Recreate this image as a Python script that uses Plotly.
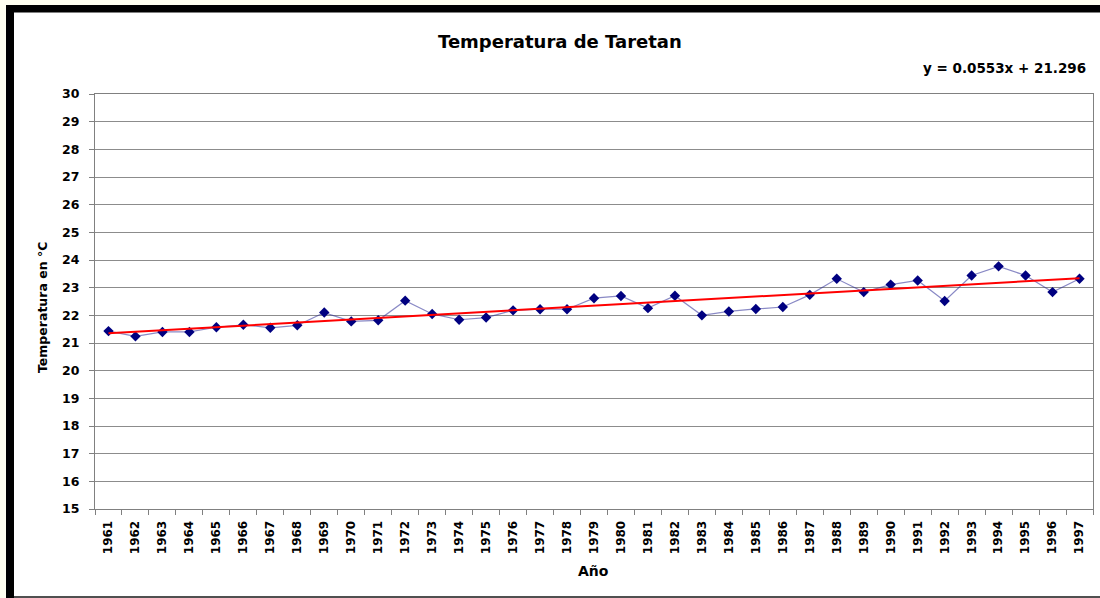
import plotly.graph_objects as go

years = [str(y) for y in range(1961, 1998)]
temps = [21.43, 21.24, 21.40, 21.40, 21.57, 21.66, 21.55, 21.64, 22.10, 21.78,
         21.82, 22.53, 22.05, 21.84, 21.92, 22.18, 22.22, 22.22, 22.62, 22.70,
         22.26, 22.71, 22.00, 22.14, 22.23, 22.30, 22.74, 23.32, 22.84, 23.11,
         23.26, 22.52, 23.44, 23.77, 23.44, 22.84, 23.32]
slope = 0.0553
intercept = 21.296
trend = [slope * (i + 1) + intercept for i in range(len(years))]

title_text = "Temperatura de Taretan"
eq_text = "y = 0.0553x + 21.296"
y_title = "Temperatura en °C"
x_title = "Año"
y_ticks = list(range(15, 31))

W, H = 1100, 598
L, R, T, B = 95, 7, 94, 89
PW = W - L - R
PH = H - T - B


def px(x):
    return (x - L) / PW


def py(y):
    return (H - B - y) / PH


FONT = "DejaVu Sans"

fig = go.Figure()
fig.add_trace(go.Scatter(
    x=years, y=temps, mode="lines+markers",
    line=dict(color="rgba(40,40,150,0.55)", width=1.2),
    marker=dict(symbol="diamond", size=8, color="#000080"),
    showlegend=False, cliponaxis=False,
))
fig.add_trace(go.Scatter(
    x=years, y=trend, mode="lines",
    line=dict(color="#ff0000", width=2),
    showlegend=False,
))

shapes = [
    dict(type="rect", xref="paper", yref="paper", x0=px(14), x1=px(1102),
         y0=py(12), y1=py(600), fillcolor="white", line=dict(width=0), layer="below"),
    dict(type="rect", xref="paper", yref="paper", x0=px(6), x1=px(14),
         y0=py(5), y1=py(600), fillcolor="black", line=dict(width=0), layer="below"),
    dict(type="rect", xref="paper", yref="paper", x0=px(6), x1=px(1102),
         y0=py(5), y1=py(12.5), fillcolor="black", line=dict(width=0), layer="below"),
    dict(type="rect", xref="paper", yref="paper", x0=px(14), x1=px(1102),
         y0=py(596), y1=py(598), fillcolor="#505050", line=dict(width=0), layer="below"),
]

annotations = [
    dict(text=f"<b>{title_text}</b>", xref="paper", yref="paper", x=px(560), y=py(41),
         xanchor="center", yanchor="middle", showarrow=False,
         font=dict(family=FONT, size=18, color="black")),
    dict(text=f"<b>{eq_text}</b>", xref="paper", yref="paper", x=px(1088), y=py(68),
         xanchor="right", yanchor="middle", showarrow=False,
         font=dict(family=FONT, size=13.5, color="black")),
    dict(text=f"<b>{y_title}</b>", xref="paper", yref="paper", x=px(42), y=py(308),
         xanchor="center", yanchor="middle", showarrow=False, textangle=-90,
         font=dict(family=FONT, size=12.5, color="black")),
    dict(text=f"<b>{x_title}</b>", xref="paper", yref="paper", x=px(593), y=py(571),
         xanchor="center", yanchor="middle", showarrow=False,
         font=dict(family=FONT, size=14, color="black")),
]

fig.update_layout(
    width=W, height=H,
    margin=dict(l=L, r=R, t=T, b=B, autoexpand=False),
    paper_bgcolor="#FFFFF0",
    plot_bgcolor="white",
    shapes=shapes,
    annotations=annotations,
    xaxis=dict(
        type="category", range=[-0.5, len(years) - 0.5],
        tickson="boundaries", ticks="outside", ticklen=5, tickcolor="#808080",
        showgrid=False, showline=True, linecolor="#808080", linewidth=1, mirror=True,
        tickangle=-90, tickfont=dict(family=FONT, size=12, color="black"),
        ticklabelstandoff=6, automargin=False,
    ),
    yaxis=dict(
        range=[15, 30], tickmode="array", tickvals=y_ticks,
        ticktext=[f"<b>{v}</b>" for v in y_ticks],
        ticks="outside", ticklen=5, tickcolor="#808080",
        showgrid=True, gridcolor="#8c8c8c", gridwidth=1,
        showline=True, linecolor="#808080", linewidth=1, mirror=True,
        zeroline=False, tickfont=dict(family=FONT, size=12.5, color="black"),
        ticklabelstandoff=7, automargin=False,
    ),
)
fig.update_xaxes(ticktext=[f"<b>{y}</b>" for y in years], tickvals=years)

fig.write_html(
    "out.html",
    config={"displayModeBar": False},
    post_script="document.body.style.margin='0';document.body.style.overflow='hidden';",
)
